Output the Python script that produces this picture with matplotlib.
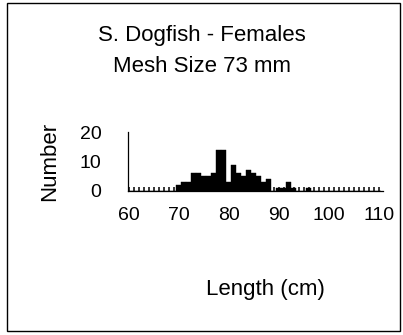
import matplotlib
matplotlib.use("Agg")
import matplotlib.pyplot as plt
from matplotlib.patches import Rectangle
from matplotlib.ticker import MultipleLocator, FixedLocator

plt.rcParams['font.family'] = ['Liberation Sans', 'DejaVu Sans']

# Data: counts per 1-cm length class (60..110 cm)
lengths = list(range(60, 111))
counts_by_length = {
    70: 2, 71: 3, 72: 3, 73: 6, 74: 6, 75: 5, 76: 5, 77: 6, 78: 14, 79: 14,
    80: 3, 81: 9, 82: 6, 83: 5, 84: 7, 85: 6, 86: 5, 87: 3, 88: 4, 89: 0,
    90: 1, 91: 1, 92: 3, 93: 1, 94: 0, 95: 0, 96: 1,
}
counts = [counts_by_length.get(l, 0) for l in lengths]
x_ticks = [60, 70, 80, 90, 100, 110]
x_tick_labels = ["60", "70", "80", "90", "100", "110"]
y_ticks = [0, 10, 20]
y_tick_labels = ["0", "10", "20"]
title_lines = ["S. Dogfish - Females", "Mesh Size 73 mm"]

W, H = 403, 335
fig = plt.figure(figsize=(W / 100, H / 100), dpi=100)
fig.patch.set_facecolor("white")

# outer frame
fig.add_artist(Rectangle((7.5 / W, 1 - 331 / H), (400 - 7.5) / W, (331 - 3) / H,
                         transform=fig.transFigure, fill=False, edgecolor="black", lw=1.0))

left_px, right_px, top_px, bot_px = 128, 383, 131.7, 190.7
ax = fig.add_axes([left_px / W, 1 - bot_px / H, (right_px - left_px) / W, (bot_px - top_px) / H])
ax.bar(lengths, counts, width=1.0, color="black", edgecolor="black", linewidth=0.3, align="center")
ax.set_xlim(59.9, 110.8)
ax.set_ylim(0, 20.3)

for s in ["top", "right"]:
    ax.spines[s].set_visible(False)
ax.spines["left"].set_linewidth(0.9)
ax.spines["bottom"].set_linewidth(0.9)

ax.set_xticks(x_ticks)
ax.set_xticklabels(x_tick_labels, fontsize=14)
ax.xaxis.set_minor_locator(MultipleLocator(1))
ax.tick_params(axis="x", which="both", direction="in", length=3.2, width=1.1)
ax.tick_params(axis="x", which="major", pad=12)

ax.set_yticks(y_ticks)
ax.set_yticklabels(y_tick_labels, fontsize=14)
ax.yaxis.set_minor_locator(FixedLocator([10]))
ax.tick_params(axis="y", which="major", length=0, pad=19)
ax.tick_params(axis="y", which="minor", direction="out", length=4, width=0.8)

fig.text(202 / W, 1 - 36 / H, title_lines[0], ha="center", va="center", fontsize=16)
fig.text(202 / W, 1 - 66 / H, title_lines[1], ha="center", va="center", fontsize=16)
fig.text(50 / W, 1 - 161 / H, "Number", rotation=90, ha="center", va="center", fontsize=16)
fig.text(265 / W, 1 - 290 / H, "Length (cm)", ha="center", va="center", fontsize=16)

fig.savefig("out.png", dpi=100)
